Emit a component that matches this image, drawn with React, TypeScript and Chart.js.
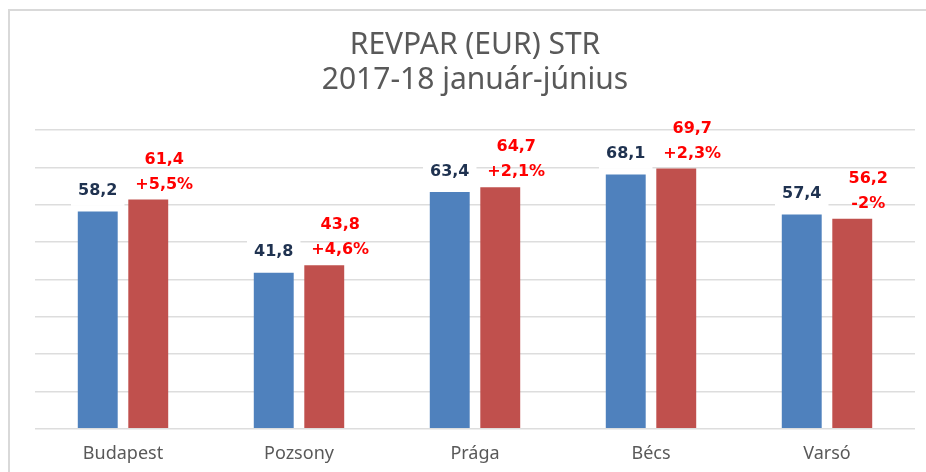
import React, { useEffect, useRef } from "react";
import { Chart, registerables } from "chart.js";

Chart.register(...registerables);

const categories = ["Budapest", "Pozsony", "Prága", "Bécs", "Varsó"];
const revpar2017 = [58.2, 41.8, 63.4, 68.1, 57.4];
const revpar2018 = [61.4, 43.8, 64.7, 69.7, 56.2];
const changeLabels = ["+5,5%", "+4,6%", "+2,1%", "+2,3%", "-2%"];
const titleLines = ["REVPAR (EUR) STR", "2017-18 január-június"];
const yMin = 0;
const yMax = 80;
const yStep = 10;

const fmt = (v: number) => v.toFixed(1).replace(".", ",");

const borderPlugin = {
  id: "frame",
  beforeDraw(chart: any) {
    const { ctx, width, height } = chart;
    ctx.save();
    ctx.fillStyle = "#D9D9D9";
    ctx.fillRect(8, 9, width - 8, 2);
    ctx.fillRect(8, 9, 2, height - 9);
    ctx.restore();
  },
};

const labelPlugin = {
  id: "barLabels",
  afterDatasetsDraw(chart: any) {
    const { ctx } = chart;
    ctx.save();
    ctx.font = "bold 16px 'DejaVu Sans'";
    ctx.textAlign = "center";
    ctx.textBaseline = "middle";
    const m0 = chart.getDatasetMeta(0);
    const m1 = chart.getDatasetMeta(1);
    m0.data.forEach((bar: any, i: number) => {
      const t = fmt(revpar2017[i]);
      const cy = bar.y - 20.5;
      const w = ctx.measureText(t).width;
      ctx.fillStyle = "#FFFFFF";
      ctx.fillRect(bar.x - w / 2 - 7, cy - 12, w + 14, 27);
      ctx.fillStyle = "#1F3250";
      ctx.fillText(t, bar.x, cy);
    });
    m1.data.forEach((bar: any, i: number) => {
      const cx = bar.x + 16;
      ctx.fillStyle = "#FF0000";
      ctx.fillText(fmt(revpar2018[i]), cx, bar.y - 40);
      ctx.fillText(changeLabels[i], cx, bar.y - 15);
    });
    ctx.restore();
  },
};

export default function App() {
  const ref = useRef<HTMLCanvasElement>(null);
  useEffect(() => {
    if (!ref.current) return;
    const chart = new Chart(ref.current, {
      type: "bar",
      data: {
        labels: categories,
        datasets: [
          {
            label: "2017",
            data: revpar2017,
            backgroundColor: "#4F81BD",
            borderWidth: 0,
            categoryPercentage: 0.574,
            barPercentage: 0.79,
          },
          {
            label: "2018",
            data: revpar2018,
            backgroundColor: "#C0504D",
            borderWidth: 0,
            categoryPercentage: 0.574,
            barPercentage: 0.79,
          },
        ],
      },
      options: {
        responsive: false,
        animation: false,
        devicePixelRatio: 1,
        layout: { padding: { left: 35, right: 11, top: 0, bottom: 7.2 } },
        plugins: {
          legend: { display: false },
          tooltip: { enabled: false },
          title: {
            display: true,
            text: titleLines,
            color: "#595959",
            font: { family: "'Noto Sans'", size: 30, weight: "normal", lineHeight: 1.15 },
            padding: { top: 28.5, bottom: 32.5 },
          },
        },
        scales: {
          x: {
            grid: { display: false, drawTicks: false },
            border: { display: false },
            ticks: {
              color: "#595959",
              font: { family: "'Noto Sans'", size: 18 },
              padding: 14.5,
            },
            afterFit(scale: any) {
              scale.height = 36.1;
            },
          },
          y: {
            min: yMin,
            max: yMax,
            ticks: { display: false, stepSize: yStep },
            grid: { color: "#DDDDDD", lineWidth: 1.5, drawTicks: false },
            border: { display: false },
          },
        },
      },
      plugins: [borderPlugin, labelPlugin],
    });
    return () => chart.destroy();
  }, []);
  return (
    <div style={{ position: "absolute", left: 0, top: 0, width: 926, height: 472, background: "#fff" }}>
      <canvas ref={ref} width={926} height={472} style={{ display: "block", width: 926, height: 472 }} />
    </div>
  );
}
